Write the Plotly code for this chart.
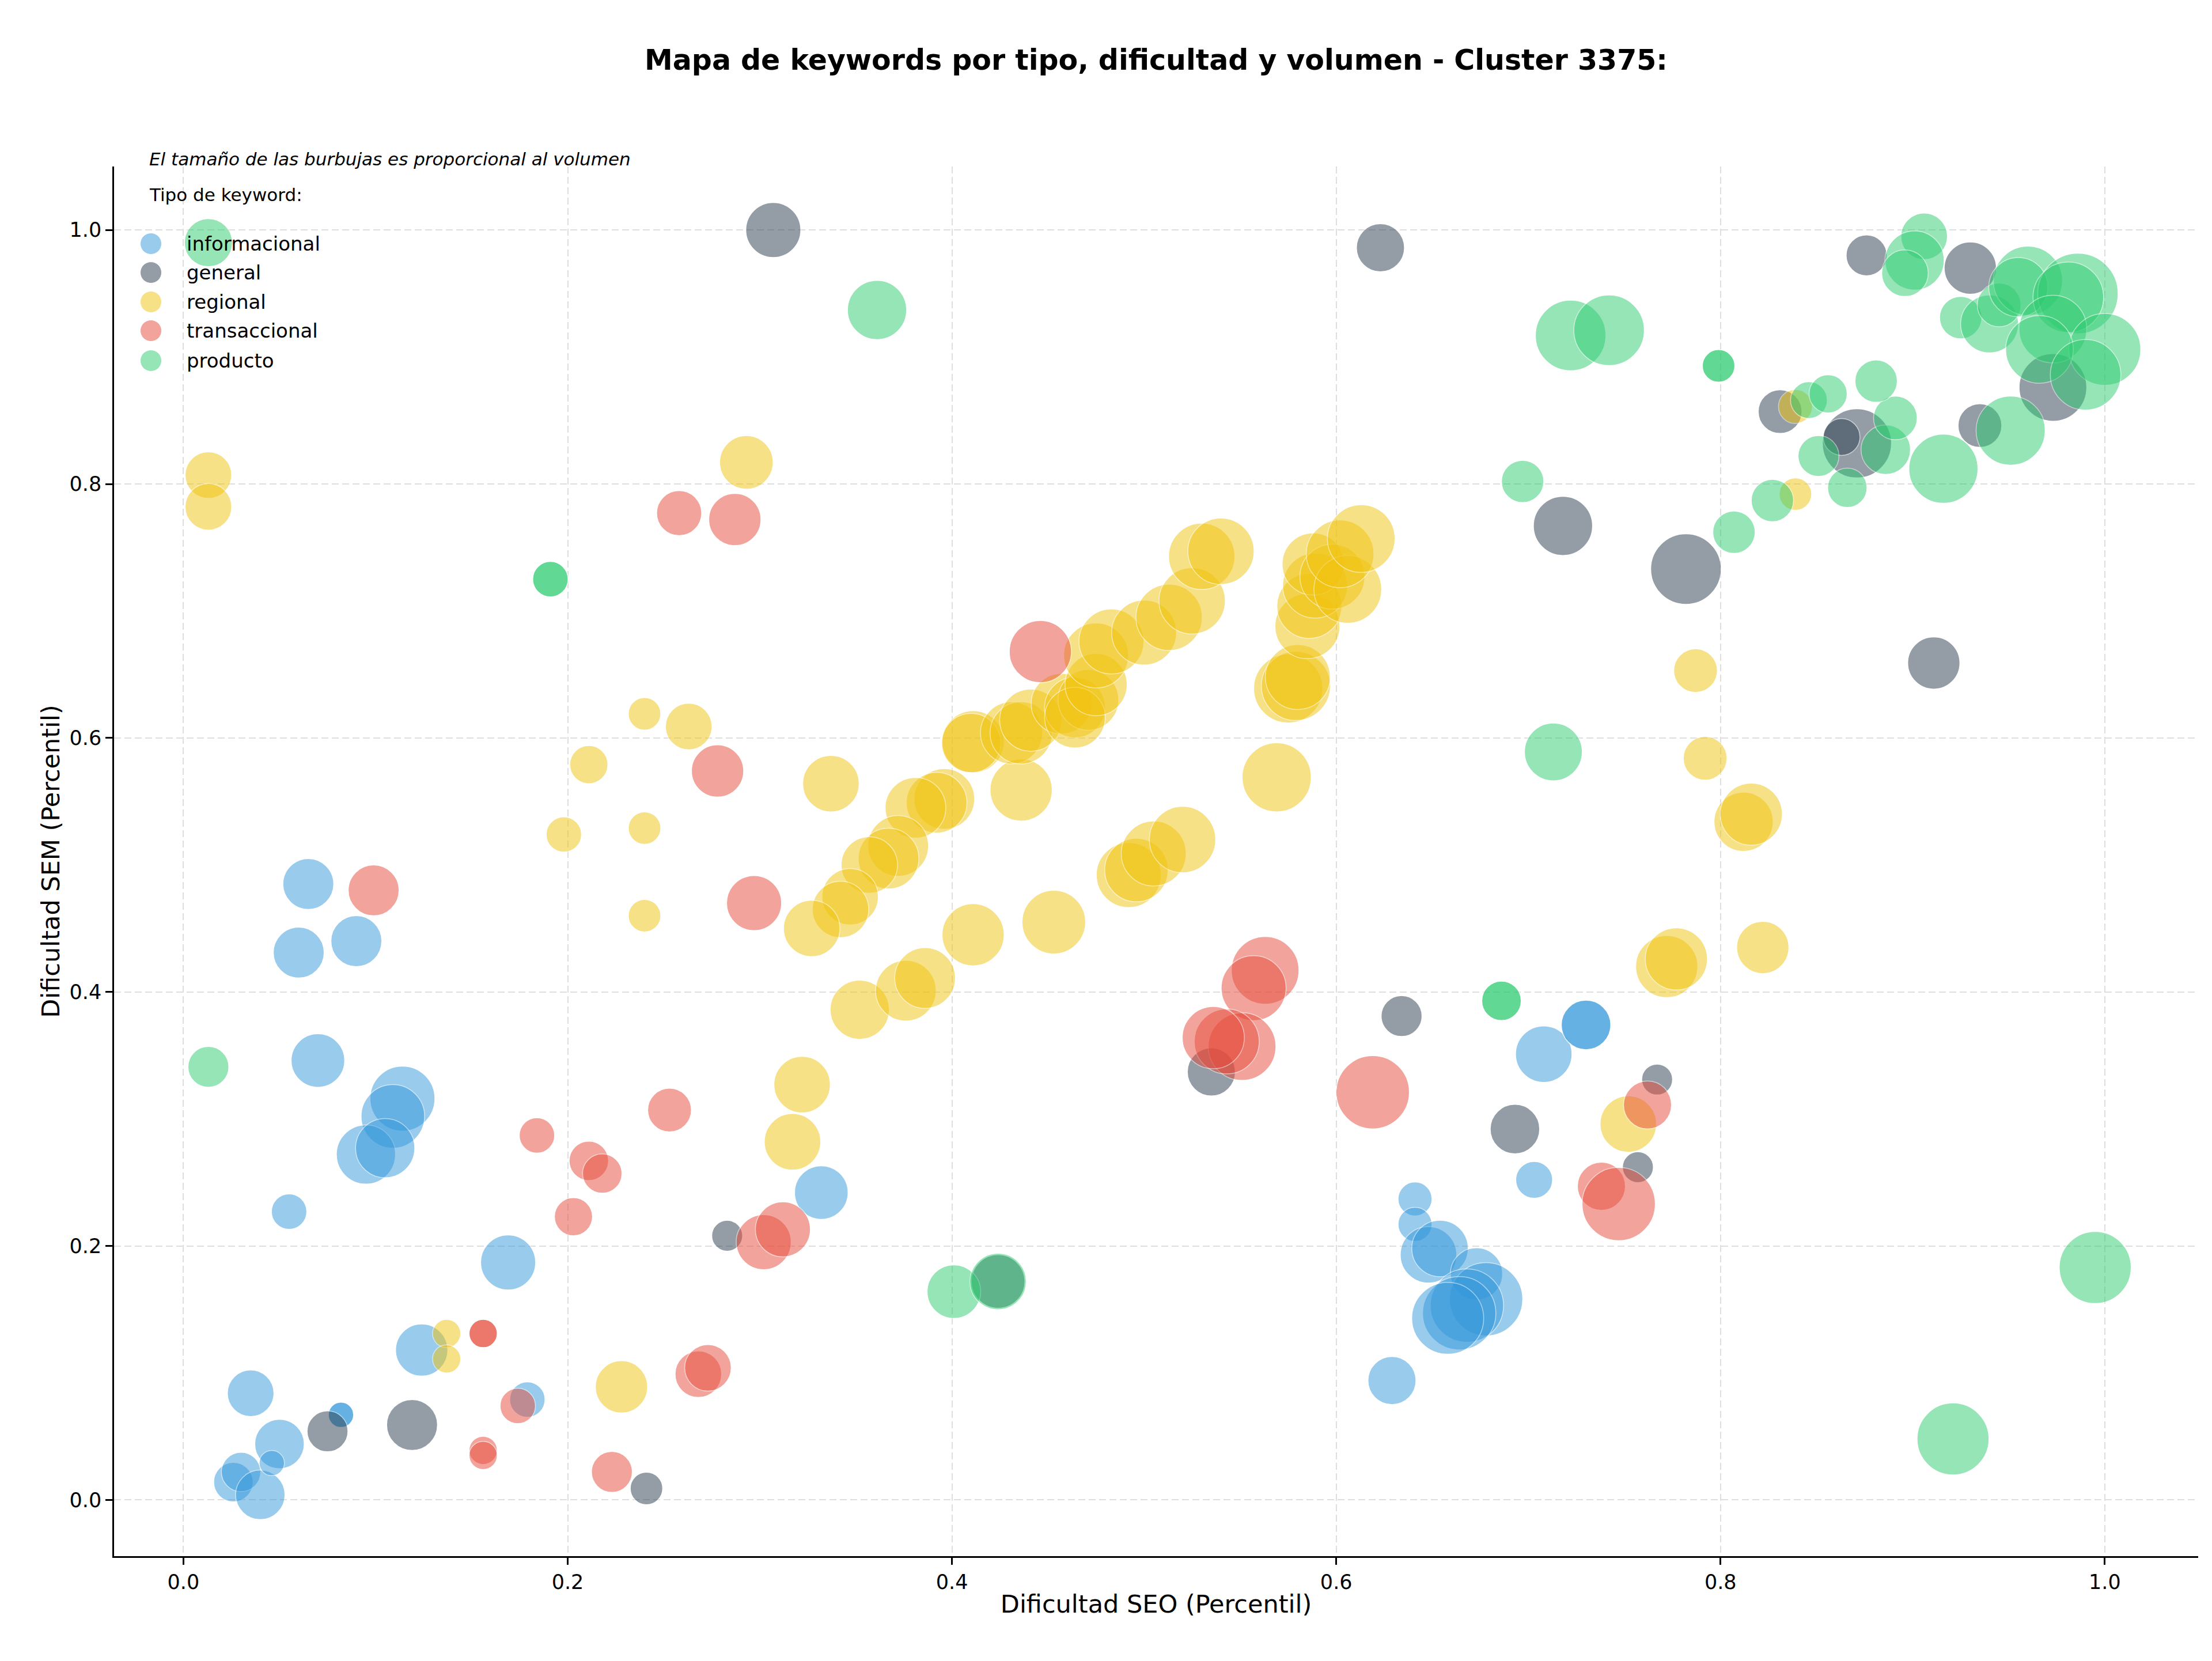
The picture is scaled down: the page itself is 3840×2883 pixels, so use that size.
import plotly.graph_objects as go

# ---------------- data ----------------
tipos = ["informacional", "general", "regional", "transaccional", "producto"]

info_seo = [0.065,0.060,0.090,0.070,0.114,0.109,0.095,0.105,0.055,0.169,
            0.124,0.035,0.050,0.026,0.030,0.040,0.046,0.082,0.082,0.179,
            0.332,0.641,0.641,0.648,0.654,0.673,0.678,0.668,0.664,0.658,
            0.629,0.708,0.730,0.730,0.703]
info_sem = [0.485,0.431,0.440,0.346,0.316,0.302,0.272,0.277,0.227,0.187,
            0.118,0.084,0.044,0.014,0.022,0.004,0.029,0.067,0.067,0.079,
            0.242,0.237,0.217,0.193,0.198,0.178,0.158,0.153,0.147,0.143,
            0.094,0.351,0.374,0.374,0.252]
info_vol = [1300,1300,1300,1440,2120,2030,1760,1760,630,1520,
            1370,1090,1230,780,780,1230,320,320,320,630,
            1440,580,580,1600,1600,1370,2700,2700,2700,2600,
            1160,1600,1230,1230,680]

gen_seo = [0.307,0.623,0.876,0.930,0.973,0.935,0.831,0.871,0.863,0.718,
           0.782,0.911,0.634,0.535,0.693,0.767,0.757,0.283,0.075,0.119,
           0.241,0.424]
gen_sem = [1.000,0.986,0.980,0.970,0.876,0.846,0.857,0.832,0.837,0.767,
           0.733,0.659,0.381,0.337,0.292,0.331,0.262,0.208,0.054,0.059,
           0.009,0.172]
gen_vol = [1520,1160,840,1370,2300,960,960,2400,680,1760,
           2500,1370,840,1160,1230,480,480,480,840,1300,
           530,1440]

reg_seo = [0.013,0.013,0.293,0.240,0.263,0.211,0.198,0.240,0.240,0.337,
           0.396,0.392,0.381,0.372,0.367,0.357,0.347,0.342,0.327,0.352,
           0.376,0.386,0.411,0.453,0.492,0.496,0.505,0.520,0.436,0.411,
           0.410,0.431,0.436,0.441,0.457,0.464,0.471,0.464,0.475,0.475,
           0.483,0.500,0.513,0.525,0.530,0.540,0.569,0.575,0.579,0.580,
           0.585,0.586,0.589,0.588,0.598,0.606,0.602,0.613,0.137,0.137,
           0.228,0.322,0.317,0.752,0.772,0.777,0.822,0.812,0.816,0.792,
           0.787,0.839,0.839]
reg_sem = [0.807,0.782,0.817,0.619,0.609,0.579,0.524,0.529,0.460,0.564,
           0.552,0.549,0.545,0.515,0.505,0.500,0.475,0.465,0.450,0.386,
           0.401,0.411,0.445,0.455,0.492,0.496,0.509,0.520,0.559,0.597,
           0.596,0.604,0.604,0.614,0.627,0.624,0.630,0.616,0.642,0.665,
           0.676,0.683,0.695,0.708,0.743,0.747,0.569,0.639,0.641,0.648,
           0.688,0.704,0.720,0.737,0.727,0.717,0.745,0.757,0.131,0.111,
           0.089,0.327,0.282,0.296,0.420,0.426,0.435,0.534,0.540,0.584,
           0.653,0.861,0.792]
reg_vol = [1090,1090,1440,530,1090,730,630,530,530,1600,
           1850,1850,1850,1850,1850,1600,1600,1600,1600,1760,
           1850,1850,1940,2030,2120,2030,2120,2210,1940,1940,
           1760,1940,1940,1940,1850,1850,1850,1850,1940,2120,
           2120,2120,2210,2210,2210,2210,2400,2400,2400,2120,
           2120,2120,2120,1940,2120,2300,2300,2300,400,400,
           1370,1600,1600,1600,1940,1940,1370,1760,1940,960,
           960,580,530]

tra_seo = [0.258,0.287,0.278,0.099,0.297,0.446,0.563,0.557,0.551,0.543,
           0.536,0.619,0.762,0.738,0.747,0.253,0.184,0.211,0.218,0.203,
           0.302,0.312,0.156,0.174,0.156,0.156,0.223,0.268,0.273,0.156]
tra_sem = [0.777,0.772,0.574,0.480,0.470,0.668,0.417,0.403,0.357,0.361,
           0.364,0.321,0.311,0.247,0.233,0.307,0.287,0.267,0.257,0.223,
           0.203,0.213,0.131,0.074,0.039,0.035,0.022,0.099,0.104,0.131]
tra_vol = [1020,1370,1370,1300,1520,1940,2300,2120,2300,2120,
           1940,2700,1160,1160,2700,960,630,780,780,730,
           1520,1520,400,630,400,400,840,1090,1090,400]

pro_seo = [0.013,0.361,0.191,0.191,0.013,0.401,0.424,0.686,0.686,0.713,
           0.697,0.807,0.722,0.742,0.799,0.799,0.827,0.866,0.851,0.886,
           0.891,0.846,0.856,0.881,0.916,0.951,0.925,0.940,0.945,0.906,
           0.901,0.896,0.960,0.955,0.986,0.981,0.973,1.000,0.966,0.990,
           0.995,0.921]
pro_sem = [0.990,0.937,0.725,0.725,0.341,0.164,0.172,0.393,0.393,0.589,
           0.802,0.762,0.917,0.921,0.893,0.893,0.787,0.797,0.822,0.827,
           0.852,0.866,0.871,0.881,0.812,0.842,0.931,0.926,0.941,0.995,
           0.976,0.966,0.960,0.955,0.950,0.947,0.922,0.906,0.906,0.886,
           0.183,0.048]
pro_vol = [1160,1760,630,630,840,1440,1600,780,780,1680,
           900,900,2500,2500,530,530,900,780,840,1230,
           960,680,730,900,2400,2400,900,1680,960,1090,
           1760,1090,2400,1760,3250,2500,2300,2600,2300,2500,
           2600,2600]

colores = ["#3498db", "#2c3e50", "#f1c40f", "#e74c3c", "#2ecc71"]

series = [
    (info_seo, info_sem, info_vol),
    (gen_seo, gen_sem, gen_vol),
    (reg_seo, reg_sem, reg_vol),
    (tra_seo, tra_sem, tra_vol),
    (pro_seo, pro_sem, pro_vol),
]

# ---------------- figure ----------------
W, H = 3840, 2883
ML, MR, MT, MB = 198, 24, 289, 182
PW, PH = W - ML - MR, H - MT - MB

fig = go.Figure()
for tipo, color, (sx, sy, sv) in zip(tipos, colores, series):
    fig.add_trace(go.Scatter(
        x=sx, y=sy, mode="markers", name=tipo, showlegend=False,
        marker=dict(size=sv, sizemode="area", sizeref=1/3, color=color,
                    opacity=0.5, line=dict(color="white", width=1.5)),
    ))

FONT = "DejaVu Sans"
axis_common = dict(
    tick0=0, dtick=0.2, tickformat=".1f",
    showgrid=True, gridcolor="#dedede", griddash="12px,6px", gridwidth=2,
    zeroline=False, showline=True, linecolor="black", linewidth=2.5,
    ticks="outside", ticklen=12, tickwidth=2.5, tickcolor="black",
    tickfont=dict(family=FONT, size=35, color="black"),
)

fig.update_layout(
    width=W, height=H,
    margin=dict(l=ML, r=MR, t=MT, b=MB, pad=0),
    paper_bgcolor="white", plot_bgcolor="white",
    font=dict(family=FONT, color="black"),
    showlegend=False,
    title=dict(text="Mapa de keywords por tipo, dificultad y volumen - Cluster 3375:",
               x=0.5, xref="paper", xanchor="center",
               y=1 - 104 / H, yref="container", yanchor="middle",
               font=dict(family=FONT, size=49, color="black", weight="bold")),
    xaxis=dict(range=[-0.0361, 1.0486],
               title=dict(text="Dificultad SEO (Percentil)", standoff=5,
                          font=dict(family=FONT, size=43, color="black")),
               **axis_common),
    yaxis=dict(range=[-0.0443, 1.05],
               title=dict(text="Dificultad SEM (Percentil)", standoff=4,
                          font=dict(family=FONT, size=43, color="black")),
               **axis_common),
)

# subtitle
fig.add_annotation(text="El tamaño de las burbujas es proporcional al volumen",
                   xref="paper", yref="paper", x=(257 - ML) / PW, y=1.0,
                   xanchor="left", yanchor="bottom", yshift=-7, showarrow=False,
                   font=dict(family=FONT, size=31, color="black", style="italic"))

# legend (drawn manually to match large markers)
fig.add_annotation(text="Tipo de keyword:", xref="paper", yref="paper",
                   x=(257 - ML) / PW, y=(H - MB - 338) / PH,
                   xanchor="left", yanchor="middle", showarrow=False,
                   font=dict(family=FONT, size=31, color="black"))
leg_px_y = [423, 473, 524, 574, 626]
mx, tx, r = 262, 322, 18.5
for tipo, color, py in zip(tipos, colores, leg_px_y):
    yc = (H - MB - py) / PH
    fig.add_shape(type="circle", xref="paper", yref="paper",
                  x0=(mx - r - ML) / PW, x1=(mx + r - ML) / PW,
                  y0=yc - r / PH, y1=yc + r / PH,
                  fillcolor=color, opacity=0.5,
                  line=dict(color="white", width=1), layer="above")
    fig.add_annotation(text=tipo, xref="paper", yref="paper",
                       x=(tx - ML) / PW, y=yc, xanchor="left", yanchor="middle",
                       showarrow=False, font=dict(family=FONT, size=34, color="black"))

fig.write_html("out.html")
